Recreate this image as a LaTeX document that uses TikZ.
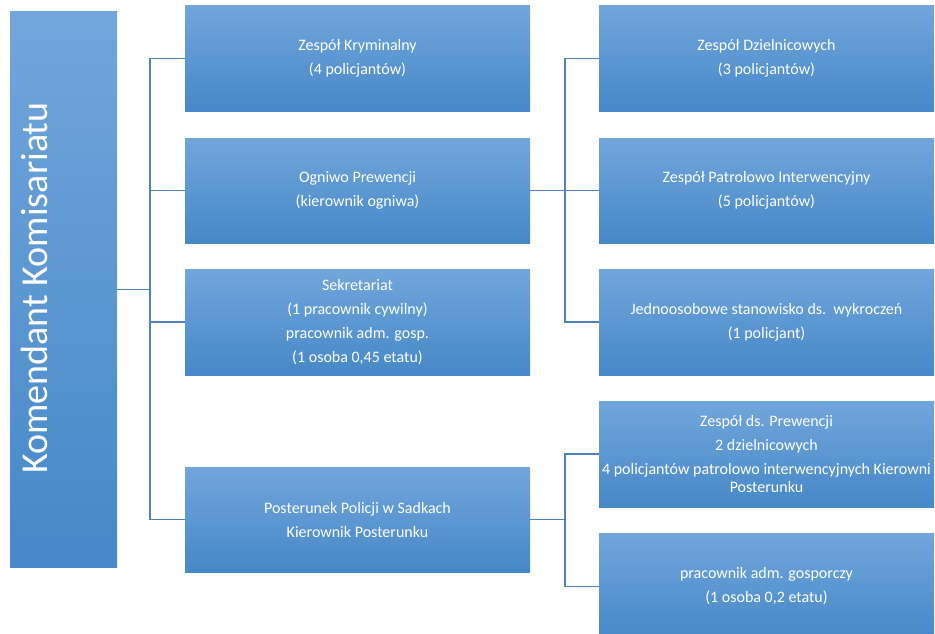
\documentclass[tikz,border=0pt]{standalone}
\usepackage{fontspec}
\setmainfont{Carlito}
\definecolor{ctop}{RGB}{113,166,219}
\definecolor{cmid}{RGB}{86,153,220}
\definecolor{cbot}{RGB}{70,136,200}
\definecolor{cline}{RGB}{79,129,189}
\tikzset{
  box/.style={draw=none, top color=ctop, middle color=cmid, bottom color=cbot,
    text=white, font=\fontsize{16}{18}\selectfont, align=center, inner sep=0pt},
  colA/.style={box, minimum width=345pt, minimum height=105pt},
  colB/.style={box, minimum width=335pt, minimum height=105pt},
  conn/.style={draw=cline, line width=1.4pt},
}
\begin{document}
\begin{tikzpicture}[x=1pt,y=-1pt]
\useasboundingbox (0,0) rectangle (935,634);
\node[box, minimum width=107pt, minimum height=555pt] (main) at (63.5,289.5) {};
\node[text=white, font=\fontsize{38}{38}\selectfont, rotate=90, inner sep=0pt] (title) at (34,288) {Komendant Komisariatu};

\node[colA] (k1) at (357.5,58.5) {Zespół Kryminalny\\[6pt](4 policjantów)};
\node[colA] (k2) at (357.5,190.5) {Ogniwo Prewencji\\[6pt](kierownik ogniwa)};
\node[colA, minimum height=106pt] (k3) at (357.5,322) {Sekretariat\\[6pt](1 pracownik cywilny)\\[6pt]pracownik adm. gosp.\\[6pt](1 osoba 0,45 etatu)};
\node[colA] (k4) at (357.5,519.5) {Posterunek Policji w Sadkach\\[6pt]Kierownik Posterunku};

\node[colB] (p1) at (766.5,58.5) {Zespół Dzielnicowych\\[6pt](3 policjantów)};
\node[colB] (p2) at (766.5,190.5) {Zespół Patrolowo Interwencyjny\\[6pt](5 policjantów)};
\node[colB, minimum height=106pt] (p3) at (766.5,322) {Jednoosobowe stanowisko ds.\ \ wykroczeń\\[6pt](1 policjant)};
\node[colB, minimum height=106pt] (p4) at (766.5,454) {Zespół ds. Prewencji\\[6pt]2 dzielnicowych\\[6pt]4 policjantów patrolowo interwencyjnych Kierowni\\Posterunku};
\node[colB, minimum height=107pt] (p5) at (766.5,586.5) {pracownik adm. gosporczy\\[6pt](1 osoba 0,2 etatu)};

\coordinate (j1) at (150,289.5);
\draw[conn] (main.east) -- (j1);
\draw[conn] (k1.west) -| (j1) |- (k4.west);
\draw[conn] (k2.west) -- (k2.west -| j1);
\draw[conn] (k3.west) -- (k3.west -| j1);

\coordinate (j2) at (565,190.5);
\draw[conn] (k2.east) -- (j2);
\draw[conn] (p1.west) -| (j2) |- (p3.west);
\draw[conn] (p2.west) -- (j2);

\coordinate (j3) at (565,519.5);
\draw[conn] (k4.east) -- (j3);
\draw[conn] (p4.west) -| (j3) |- (p5.west);
\end{tikzpicture}
\end{document}
